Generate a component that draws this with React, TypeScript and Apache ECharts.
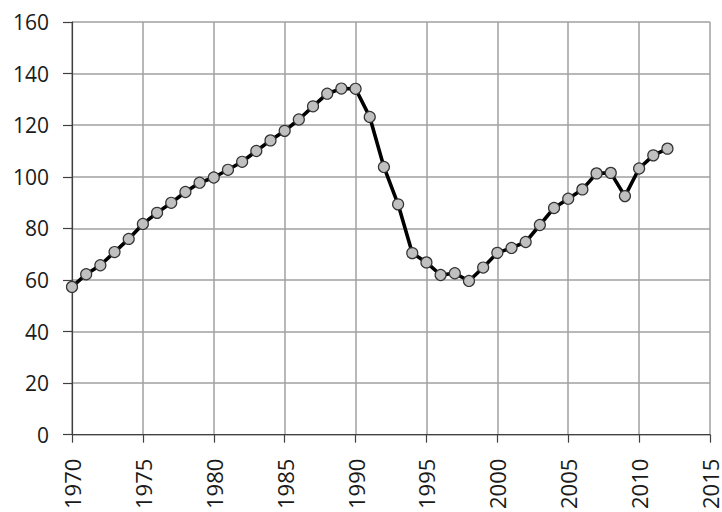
import React, { useEffect, useRef } from "react";
import * as echarts from "echarts";

const years = [
  1970, 1971, 1972, 1973, 1974, 1975, 1976, 1977, 1978, 1979,
  1980, 1981, 1982, 1983, 1984, 1985, 1986, 1987, 1988, 1989,
  1990, 1991, 1992, 1993, 1994, 1995, 1996, 1997, 1998, 1999,
  2000, 2001, 2002, 2003, 2004, 2005, 2006, 2007, 2008, 2009,
  2010, 2011, 2012,
];
const values = [
  57.3, 62.2, 65.7, 70.8, 75.9, 81.7, 86.0, 89.9, 94.1, 97.7,
  99.7, 102.7, 105.8, 110.0, 114.1, 117.8, 122.2, 127.3, 132.2, 134.2,
  134.1, 123.2, 103.8, 89.3, 70.4, 66.8, 61.9, 62.6, 59.6, 64.8,
  70.5, 72.4, 74.7, 81.3, 87.9, 91.5, 95.1, 101.3, 101.5, 92.5,
  103.2, 108.3, 110.9,
];
const xTicks = { min: 1970, max: 2015, interval: 5 };
const yTicks = { min: 0, max: 160, interval: 20 };

export default function App() {
  const ref = useRef<HTMLDivElement>(null);
  useEffect(() => {
    if (!ref.current) return;
    const chart = echarts.init(ref.current, null, { renderer: "svg" });
    const font = "'Open Sans', sans-serif";
    chart.setOption({
      animation: false,
      backgroundColor: "#ffffff",
      grid: { left: 72, right: 12, top: 22, bottom: 75 },
      xAxis: {
        type: "value",
        min: xTicks.min,
        max: xTicks.max,
        interval: xTicks.interval,
        axisLine: { show: true, lineStyle: { color: "#404040", width: 1.2 } },
        axisTick: { show: true, length: 8, lineStyle: { color: "#404040", width: 1.2 } },
        splitLine: { show: true, lineStyle: { color: "#a0a0a0", width: 1.5 } },
        axisLabel: {
          rotate: 90,
          margin: 24,
          fontSize: 22,
          lineHeight: 18,
          fontFamily: font,
          color: "#1a1a1a",
          formatter: (v: number) => String(v),
        },
      },
      yAxis: {
        type: "value",
        min: yTicks.min,
        max: yTicks.max,
        interval: yTicks.interval,
        axisLine: { show: true, lineStyle: { color: "#404040", width: 1.2 } },
        axisTick: { show: true, length: 9, lineStyle: { color: "#404040", width: 1.2 } },
        splitLine: { show: true, lineStyle: { color: "#a0a0a0", width: 1.5 } },
        axisLabel: {
          margin: 23,
          fontSize: 21,
          fontFamily: font,
          color: "#1a1a1a",
        },
      },
      series: [
        {
          type: "line",
          data: years.map((y, i) => [y, values[i]]),
          lineStyle: { color: "#000000", width: 3.6 },
          symbol: "circle",
          symbolSize: 11,
          itemStyle: { color: "#c0c0c0", borderColor: "#333333", borderWidth: 1.2 },
          z: 5,
        },
      ],
    });
    return () => chart.dispose();
  }, []);
  return <div ref={ref} style={{ width: 722, height: 512, position: "absolute", left: 0, top: 0 }} />;
}
